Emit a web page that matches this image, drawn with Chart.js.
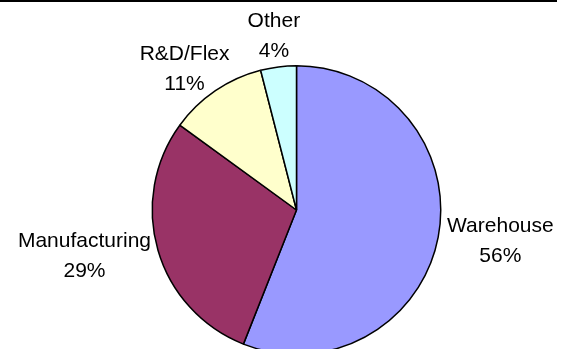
<!DOCTYPE html>
<html>
<head>
<meta charset="utf-8">
<script src="https://cdn.jsdelivr.net/npm/chart.js@4"></script>
<style>
  html, body { margin: 0; padding: 0; background: #fff; overflow: hidden; }
  body { width: 561px; height: 349px; position: relative; }
  #lineaSuperior { position: absolute; top: 0; left: 0; width: 557px; height: 2px; background: #000; }
  #grafico { position: absolute; top: 0; left: 0; }
</style>
</head>
<body>
<div id="lineaSuperior"></div>
<canvas id="grafico" width="561" height="365"></canvas>
<script>
// Datos del gráfico
const categorias = ['Warehouse', 'Manufacturing', 'R&D/Flex', 'Other'];
const valores = [56, 29, 11, 4];
const colores = ['#9999FF', '#993366', '#FFFFCC', '#CCFFFF'];

// Plugin para dibujar las etiquetas fuera de cada sector
const etiquetasExternas = {
  id: 'etiquetasExternas',
  afterDatasetsDraw(chart) {
    const ctx = chart.ctx;
    const meta = chart.getDatasetMeta(0);
    ctx.save();
    ctx.font = '21px "Liberation Sans", Arial, sans-serif';
    ctx.fillStyle = '#000';
    ctx.textAlign = 'center';
    ctx.textBaseline = 'alphabetic';
    meta.data.forEach((arc, i) => {
      const { x, y, startAngle, endAngle, outerRadius } =
        arc.getProps(['x', 'y', 'startAngle', 'endAngle', 'outerRadius'], true);
      const medio = (startAngle + endAngle) / 2;
      const dx = Math.cos(medio);
      const dy = Math.sin(medio);
      const lineas = [categorias[i], valores[i] + '%'];
      const ancho = Math.max(...lineas.map(t => ctx.measureText(t).width));
      const alto = 45;
      const ax = x + dx * (outerRadius + 10);
      const ay = y + dy * (outerRadius + 10);
      // el bloque se desplaza hacia fuera según la dirección del sector
      const cx = ax + dx * ancho / 2;
      const cy = ay + dy * Math.abs(dy) * alto / 2;
      ctx.fillText(lineas[0], cx, cy - alto / 2 + 15);
      ctx.fillText(lineas[1], cx, cy + alto / 2);
    });
    ctx.restore();
  }
};

const ctx = document.getElementById('grafico').getContext('2d');

new Chart(ctx, {
  type: 'pie',
  data: {
    labels: categorias,
    datasets: [{
      data: valores,
      backgroundColor: colores,
      borderColor: '#000',
      borderWidth: 1.5
    }]
  },
  options: {
    responsive: false,
    animation: false,
    devicePixelRatio: 1,
    layout: {
      padding: { top: 65, bottom: 10, left: 32, right: 0 }
    },
    plugins: {
      legend: { display: false },
      tooltip: { enabled: false }
    }
  },
  plugins: [etiquetasExternas]
});
</script>
</body>
</html>
